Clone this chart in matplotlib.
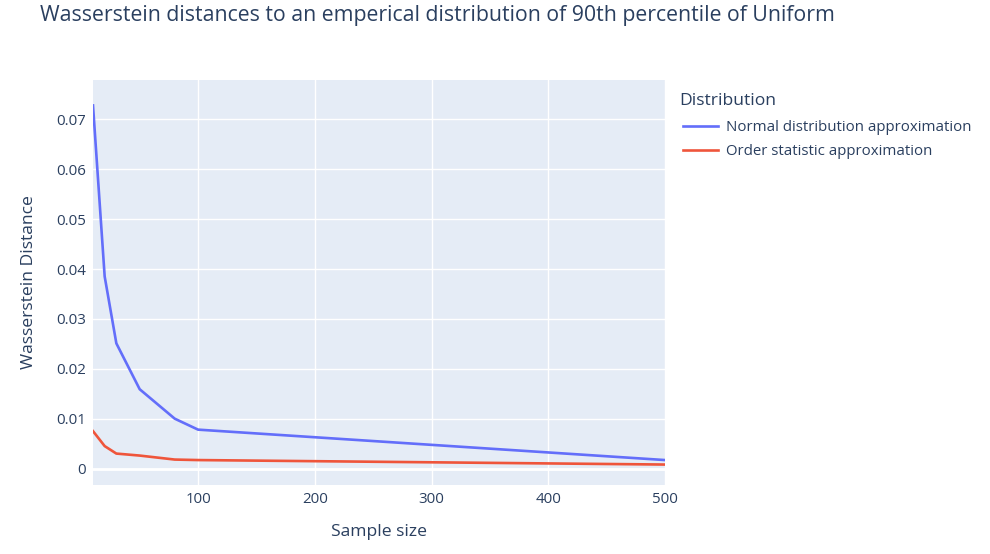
import numpy as np
import matplotlib.pyplot as plt

plt.rcParams['font.family'] = ['Open Sans', 'DejaVu Sans']

# data
sample_size = [10, 20, 30, 50, 80, 100, 500]
normal_approx = [0.0728, 0.0385, 0.0251, 0.0159, 0.0100, 0.0078, 0.0017]
order_approx = [0.0075, 0.0045, 0.0030, 0.0026, 0.0018, 0.0017, 0.0008]

x_ticks = [100, 200, 300, 400, 500]
y_ticks = [0, 0.01, 0.02, 0.03, 0.04, 0.05, 0.06, 0.07]
y_tick_labels = ["0", "0.01", "0.02", "0.03", "0.04", "0.05", "0.06", "0.07"]

text_col = "#2a3f5f"

fig = plt.figure(figsize=(9.9, 5.54), dpi=100)
ax = fig.add_axes([93/990, 1 - 485/554, 572/990, 405/554])
ax.set_facecolor("#E5ECF6")

ax.plot(sample_size, normal_approx, color="#636efa", lw=1.9,
        label="Normal distribution approximation", zorder=3)
ax.plot(sample_size, order_approx, color="#EF553B", lw=1.9,
        label="Order statistic approximation", zorder=3)

ax.set_xlim(10, 500)
ax.set_ylim(-0.0033, 0.0779)
ax.set_xticks(x_ticks)
ax.set_yticks(y_ticks)
ax.set_yticklabels(y_tick_labels)
ax.grid(True, color="white", lw=1)
ax.axhline(0, color="white", lw=2, zorder=2)
ax.set_axisbelow(True)
for s in ax.spines.values():
    s.set_visible(False)
ax.tick_params(length=0, labelsize=10.8, labelcolor=text_col, pad=5)

ax.set_xlabel("Sample size", fontsize=12.6, color=text_col, labelpad=12)
ax.set_ylabel("Wasserstein Distance", fontsize=12.6, color=text_col, labelpad=14)

fig.text(40/990, 1 - 16/554, "Wasserstein distances to an emperical distribution of 90th percentile of Uniform",
         fontsize=15.3, color=text_col, va="center", ha="left")

# legend title drawn separately so its gap to the entries matches
fig.text(679/990, 1 - 101/554, "Distribution", fontsize=12.6, color=text_col,
         va="center", ha="left")
leg = ax.legend(loc="upper left", bbox_to_anchor=(683/990, 1 - 120/554),
                bbox_transform=fig.transFigure, frameon=False,
                fontsize=10.8, borderpad=0, borderaxespad=0,
                handlelength=2.3, handletextpad=0.6, labelspacing=0.62)
for t in leg.get_texts():
    t.set_color(text_col)

fig.savefig("out.png", dpi=100)
